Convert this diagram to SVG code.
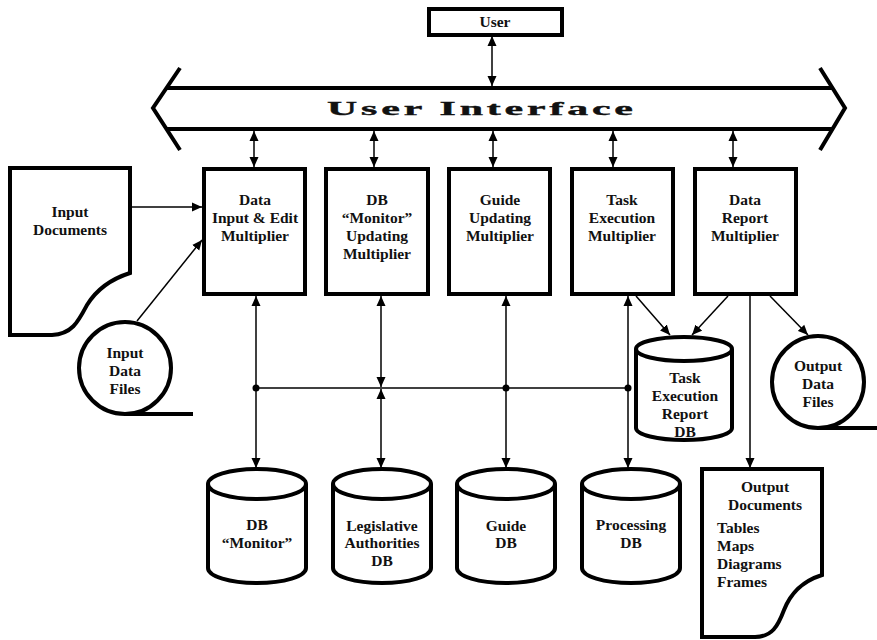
<svg xmlns="http://www.w3.org/2000/svg" width="877" height="640" viewBox="0 0 877 640">
  <style>
    .box { fill: #fff; stroke: #000; stroke-width: 4; }
    .thick { fill: none; stroke: #000; stroke-width: 4; }
    .wire { fill: none; stroke: #000; stroke-width: 1.5; }
    .lbl { font-family: "Liberation Serif", "Times New Roman", serif; font-weight: bold; font-size: 15.5px; fill: #111; text-anchor: middle; }
    .lft { text-anchor: start; }
    .dot { fill: #000; }
  </style>
  <defs>
    <marker id="ah" viewBox="0 0 10 10" refX="10" refY="5" markerWidth="10" markerHeight="10" markerUnits="userSpaceOnUse" orient="auto-start-reverse">
      <path d="M0,0.5 L10,5 L0,9.5 Z" fill="#000"/>
    </marker>
  </defs>

  <rect width="877" height="640" fill="#fff"/>

  <!-- user -->
  <g id="user">
    <rect class="box" x="429" y="9" width="133" height="26"/>
    <text class="lbl" x="495" y="27">User</text>
  </g>

  <!-- user interface bus -->
  <g id="user-interface">
    <path class="thick" d="M180,68 L153,108 L180,150"/>
    <path class="thick" d="M820,68 L845,108 L820,150"/>
    <line class="thick" x1="166" y1="88" x2="832" y2="88"/>
    <line class="thick" x1="166" y1="129" x2="832" y2="129"/>
    <text x="480" y="115" textLength="139" lengthAdjust="spacing" transform="translate(480 0) scale(2.2 1) translate(-480 0)" style="font-family:'Liberation Serif',serif;font-weight:bold;font-size:19px;fill:#111;stroke:#111;stroke-width:0.4;text-anchor:middle">User Interface</text>
  </g>

  <!-- multipliers -->
  <g id="data-input">
    <rect class="box" x="204" y="169" width="101" height="125"/>
    <text class="lbl" x="255" y="205">Data</text>
    <text class="lbl" x="255" y="223">Input &amp; Edit</text>
    <text class="lbl" x="255" y="241">Multiplier</text>
  </g>
  <g id="db-monitor-updating">
    <rect class="box" x="326" y="169" width="102" height="125"/>
    <text class="lbl" x="377" y="205">DB</text>
    <text class="lbl" x="377" y="223">“Monitor”</text>
    <text class="lbl" x="377" y="241">Updating</text>
    <text class="lbl" x="377" y="259">Multiplier</text>
  </g>
  <g id="guide-updating">
    <rect class="box" x="449" y="169" width="101" height="125"/>
    <text class="lbl" x="500" y="205">Guide</text>
    <text class="lbl" x="500" y="223">Updating</text>
    <text class="lbl" x="500" y="241">Multiplier</text>
  </g>
  <g id="task-execution">
    <rect class="box" x="572" y="169" width="101" height="125"/>
    <text class="lbl" x="622" y="205">Task</text>
    <text class="lbl" x="622" y="223">Execution</text>
    <text class="lbl" x="622" y="241">Multiplier</text>
  </g>
  <g id="data-report">
    <rect class="box" x="695" y="169" width="101" height="125"/>
    <text class="lbl" x="745" y="205">Data</text>
    <text class="lbl" x="745" y="223">Report</text>
    <text class="lbl" x="745" y="241">Multiplier</text>
  </g>

  <!-- input side -->
  <g id="input-documents">
    <path class="box" d="M10,168 L130,168 L130,273 C108,280 95,292 87,305 C78,322 72,334 52,335 L10,335 Z"/>
    <text class="lbl" x="70" y="217">Input</text>
    <text class="lbl" x="70" y="235">Documents</text>
  </g>
  <g id="input-data-files">
    <circle class="box" cx="125" cy="368" r="46"/>
    <line class="thick" x1="125" y1="414" x2="193" y2="414"/>
    <text class="lbl" x="125" y="358">Input</text>
    <text class="lbl" x="125" y="376">Data</text>
    <text class="lbl" x="125" y="394">Files</text>
  </g>

  <!-- outputs -->
  <g id="task-report-db">
    <path class="box" d="M636,349 L636,428 A48,12 0 0 0 732,428 L732,349"/>
    <ellipse class="box" cx="684" cy="349" rx="48" ry="12"/>
    <text class="lbl" x="685" y="383">Task</text>
    <text class="lbl" x="685" y="401">Execution</text>
    <text class="lbl" x="685" y="419">Report</text>
    <text class="lbl" x="685" y="437">DB</text>
  </g>
  <g id="output-data-files">
    <circle class="box" cx="818" cy="382" r="46"/>
    <line class="thick" x1="818" y1="428" x2="877" y2="428"/>
    <text class="lbl" x="818" y="371">Output</text>
    <text class="lbl" x="818" y="389">Data</text>
    <text class="lbl" x="818" y="407">Files</text>
  </g>
  <g id="output-documents">
    <path class="box" d="M702,469 L822,469 L822,575 C800,582 790,595 784,610 C778,626 772,637 755,637 L702,637 Z"/>
    <text class="lbl" x="765" y="492">Output</text>
    <text class="lbl" x="765" y="510">Documents</text>
    <text class="lbl lft" x="717" y="533">Tables</text>
    <text class="lbl lft" x="717" y="551">Maps</text>
    <text class="lbl lft" x="717" y="569">Diagrams</text>
    <text class="lbl lft" x="717" y="587">Frames</text>
  </g>

  <!-- databases -->
  <g id="db-monitor">
    <path class="box" d="M208,484 L208,568 A49,15 0 0 0 306,568 L306,484"/>
    <ellipse class="box" cx="257" cy="484" rx="49" ry="15"/>
    <text class="lbl" x="257" y="530">DB</text>
    <text class="lbl" x="257" y="548">“Monitor”</text>
  </g>
  <g id="legislative-db">
    <path class="box" d="M333,484 L333,568 A49,15 0 0 0 431,568 L431,484"/>
    <ellipse class="box" cx="382" cy="484" rx="49" ry="15"/>
    <text class="lbl" x="382" y="531">Legislative</text>
    <text class="lbl" x="382" y="548">Authorities</text>
    <text class="lbl" x="382" y="566">DB</text>
  </g>
  <g id="guide-db">
    <path class="box" d="M457,484 L457,568 A49,15 0 0 0 555,568 L555,484"/>
    <ellipse class="box" cx="506" cy="484" rx="49" ry="15"/>
    <text class="lbl" x="506" y="531">Guide</text>
    <text class="lbl" x="506" y="548">DB</text>
  </g>
  <g id="processing-db">
    <path class="box" d="M582,484 L582,568 A49,15 0 0 0 680,568 L680,484"/>
    <ellipse class="box" cx="631" cy="484" rx="49" ry="15"/>
    <text class="lbl" x="631" y="530">Processing</text>
    <text class="lbl" x="631" y="548">DB</text>
  </g>

  <!-- connectors -->
  <g id="connectors">
    <line class="wire" x1="492" y1="36" x2="492" y2="86" marker-start="url(#ah)" marker-end="url(#ah)"/>
    <line class="wire" x1="254" y1="131" x2="254" y2="167" marker-start="url(#ah)" marker-end="url(#ah)"/>
    <line class="wire" x1="374" y1="131" x2="374" y2="167" marker-start="url(#ah)" marker-end="url(#ah)"/>
    <line class="wire" x1="493" y1="131" x2="493" y2="167" marker-start="url(#ah)" marker-end="url(#ah)"/>
    <line class="wire" x1="613" y1="131" x2="613" y2="167" marker-start="url(#ah)" marker-end="url(#ah)"/>
    <line class="wire" x1="733" y1="131" x2="733" y2="167" marker-start="url(#ah)" marker-end="url(#ah)"/>

    <line class="wire" x1="131" y1="207" x2="202" y2="207" marker-end="url(#ah)"/>
    <line class="wire" x1="137" y1="321" x2="202" y2="240" marker-end="url(#ah)"/>

    <line class="wire" x1="256" y1="388" x2="628" y2="388"/>
    <line class="wire" x1="256" y1="296" x2="256" y2="468" marker-start="url(#ah)" marker-end="url(#ah)"/>
    <line class="wire" x1="381" y1="296" x2="381" y2="387" marker-start="url(#ah)" marker-end="url(#ah)"/>
    <line class="wire" x1="381" y1="389" x2="381" y2="468" marker-start="url(#ah)" marker-end="url(#ah)"/>
    <line class="wire" x1="506" y1="296" x2="506" y2="468" marker-start="url(#ah)" marker-end="url(#ah)"/>
    <line class="wire" x1="628" y1="296" x2="628" y2="468" marker-start="url(#ah)" marker-end="url(#ah)"/>
    <circle class="dot" cx="256" cy="388" r="3.5"/>
    <circle class="dot" cx="506" cy="388" r="3.5"/>
    <circle class="dot" cx="628" cy="388" r="3.5"/>

    <line class="wire" x1="750" y1="296" x2="750" y2="468" marker-end="url(#ah)"/>
    <line class="wire" x1="636" y1="296" x2="670" y2="335" marker-end="url(#ah)"/>
    <line class="wire" x1="728" y1="296" x2="692" y2="335" marker-end="url(#ah)"/>
    <line class="wire" x1="770" y1="296" x2="808" y2="335" marker-end="url(#ah)"/>
  </g>
</svg>
